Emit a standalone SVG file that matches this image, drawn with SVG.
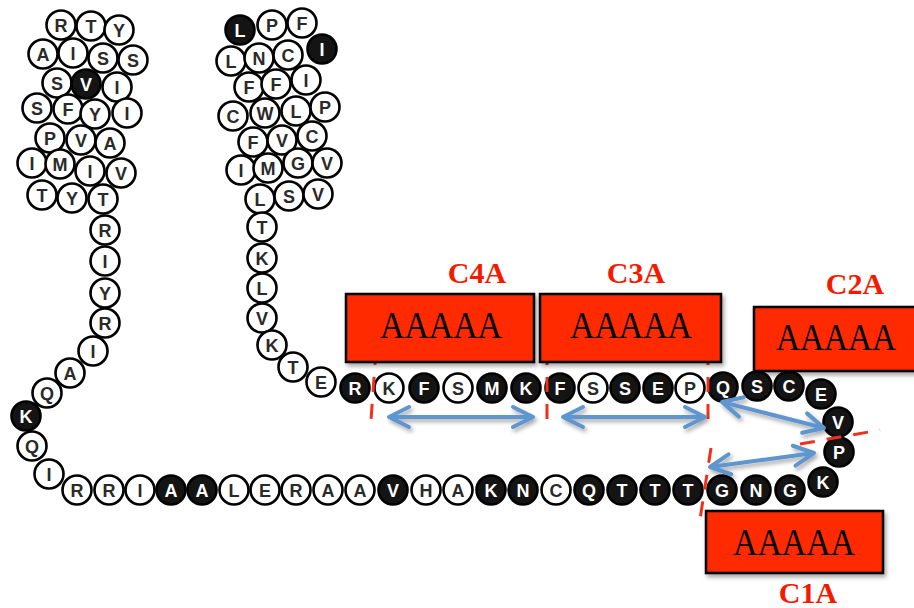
<svg xmlns="http://www.w3.org/2000/svg" width="914" height="608" viewBox="0 0 914 608">
<style>
.n circle{stroke:#000;stroke-width:2.6}
.w circle{fill:#fff}
.d circle{fill:#141414}
.n text{font-family:"Liberation Sans",Arial,sans-serif;font-size:18px;font-weight:bold;text-anchor:middle}
.w text{fill:#2a2a2a}
.d text{fill:#fff}
.box rect{fill:#FF2A00;stroke:#000;stroke-width:2.5}
.box .aa{font-family:"Liberation Serif","Times New Roman",serif;font-size:38px;text-anchor:middle;fill:#000}
.box .lab{font-family:"Liberation Serif","Times New Roman",serif;font-weight:bold;font-size:30px;fill:#F41A00;text-anchor:middle}
.cut{stroke:#F0301A;stroke-width:3;stroke-dasharray:15 12;fill:none}
.arr{stroke:#5E96CF;stroke-width:4;fill:none;marker-start:url(#ah);marker-end:url(#ah)}
</style>
<defs>
<filter id="sh" x="-10%" y="-10%" width="130%" height="140%">
<feDropShadow dx="2" dy="3" stdDeviation="2" flood-color="#000" flood-opacity="0.35"/>
</filter>
<marker id="ah" viewBox="-24 -13 28 26" refX="0" refY="0" markerWidth="28" markerHeight="26" markerUnits="userSpaceOnUse" orient="auto-start-reverse">
<path d="M-20,-10 L0,0 L-20,10" fill="none" stroke="#5E96CF" stroke-width="4" stroke-linecap="round" stroke-linejoin="round"/>
</marker>
</defs>
<rect width="914" height="608" fill="#fff"/>

<g id="helix1">
<g id="a1" class="n w"><circle cx="61" cy="25" r="14.5"/><text x="61" y="31.5">R</text></g>
<g id="a2" class="n w"><circle cx="91" cy="26" r="14.5"/><text x="91" y="32.5">T</text></g>
<g id="a3" class="n w"><circle cx="119" cy="30" r="14.5"/><text x="119" y="36.5">Y</text></g>
<g id="a4" class="n w"><circle cx="43" cy="54" r="14.5"/><text x="43" y="60.5">A</text></g>
<g id="a5" class="n w"><circle cx="73" cy="53" r="14.5"/><text x="73" y="59.5">I</text></g>
<g id="a6" class="n w"><circle cx="103" cy="58" r="14.5"/><text x="103" y="64.5">S</text></g>
<g id="a7" class="n w"><circle cx="133" cy="60" r="14.5"/><text x="133" y="66.5">S</text></g>
<g id="a8" class="n w"><circle cx="57" cy="83" r="14.5"/><text x="57" y="89.5">S</text></g>
<g id="a9" class="n d"><circle cx="86" cy="84" r="14.5"/><text x="86" y="90.5">V</text></g>
<g id="a10" class="n w"><circle cx="117" cy="87" r="14.5"/><text x="117" y="93.5">I</text></g>
<g id="a11" class="n w"><circle cx="37" cy="108" r="14.5"/><text x="37" y="114.5">S</text></g>
<g id="a12" class="n w"><circle cx="68" cy="109" r="14.5"/><text x="68" y="115.5">F</text></g>
<g id="a13" class="n w"><circle cx="95" cy="114" r="14.5"/><text x="95" y="120.5">Y</text></g>
<g id="a14" class="n w"><circle cx="127" cy="113" r="14.5"/><text x="127" y="119.5">I</text></g>
<g id="a15" class="n w"><circle cx="50" cy="138" r="14.5"/><text x="50" y="144.5">P</text></g>
<g id="a16" class="n w"><circle cx="81" cy="140" r="14.5"/><text x="81" y="146.5">V</text></g>
<g id="a17" class="n w"><circle cx="110" cy="143" r="14.5"/><text x="110" y="149.5">A</text></g>
<g id="a18" class="n w"><circle cx="32" cy="163" r="14.5"/><text x="32" y="169.5">I</text></g>
<g id="a19" class="n w"><circle cx="60" cy="164" r="14.5"/><text x="60" y="170.5">M</text></g>
<g id="a20" class="n w"><circle cx="90" cy="171" r="14.5"/><text x="90" y="177.5">I</text></g>
<g id="a21" class="n w"><circle cx="121" cy="173" r="14.5"/><text x="121" y="179.5">V</text></g>
<g id="a22" class="n w"><circle cx="42" cy="195" r="14.5"/><text x="42" y="201.5">T</text></g>
<g id="a23" class="n w"><circle cx="72" cy="198" r="14.5"/><text x="72" y="204.5">Y</text></g>
<g id="a24" class="n w"><circle cx="103" cy="199" r="14.5"/><text x="103" y="205.5">T</text></g>
</g>

<g id="helix2">
<g id="b1" class="n d"><circle cx="240" cy="30" r="14.5"/><text x="240" y="36.5">L</text></g>
<g id="b2" class="n w"><circle cx="272" cy="25" r="14.5"/><text x="272" y="31.5">P</text></g>
<g id="b3" class="n w"><circle cx="302" cy="23" r="14.5"/><text x="302" y="29.5">F</text></g>
<g id="b4" class="n w"><circle cx="231" cy="61" r="14.5"/><text x="231" y="67.5">L</text></g>
<g id="b5" class="n w"><circle cx="259" cy="58" r="14.5"/><text x="259" y="64.5">N</text></g>
<g id="b6" class="n w"><circle cx="288" cy="55" r="14.5"/><text x="288" y="61.5">C</text></g>
<g id="b7" class="n d"><circle cx="322" cy="49" r="14.5"/><text x="322" y="55.5">I</text></g>
<g id="b8" class="n w"><circle cx="249" cy="87" r="14.5"/><text x="249" y="93.5">F</text></g>
<g id="b9" class="n w"><circle cx="276" cy="84" r="14.5"/><text x="276" y="90.5">F</text></g>
<g id="b10" class="n w"><circle cx="306" cy="80" r="14.5"/><text x="306" y="86.5">I</text></g>
<g id="b11" class="n w"><circle cx="233" cy="116" r="14.5"/><text x="233" y="122.5">C</text></g>
<g id="b12" class="n w"><circle cx="265" cy="113" r="14.5"/><text x="265" y="119.5">W</text></g>
<g id="b13" class="n w"><circle cx="296" cy="111" r="14.5"/><text x="296" y="117.5">L</text></g>
<g id="b14" class="n w"><circle cx="325" cy="107" r="14.5"/><text x="325" y="113.5">P</text></g>
<g id="b15" class="n w"><circle cx="253" cy="142" r="14.5"/><text x="253" y="148.5">F</text></g>
<g id="b16" class="n w"><circle cx="282" cy="140" r="14.5"/><text x="282" y="146.5">V</text></g>
<g id="b17" class="n w"><circle cx="312" cy="136" r="14.5"/><text x="312" y="142.5">C</text></g>
<g id="b18" class="n w"><circle cx="241" cy="170" r="14.5"/><text x="241" y="176.5">I</text></g>
<g id="b19" class="n w"><circle cx="268" cy="168" r="14.5"/><text x="268" y="174.5">M</text></g>
<g id="b20" class="n w"><circle cx="298" cy="163" r="14.5"/><text x="298" y="169.5">G</text></g>
<g id="b21" class="n w"><circle cx="327" cy="163" r="14.5"/><text x="327" y="169.5">V</text></g>
<g id="b22" class="n w"><circle cx="260" cy="199" r="14.5"/><text x="260" y="205.5">L</text></g>
<g id="b23" class="n w"><circle cx="289" cy="196" r="14.5"/><text x="289" y="202.5">S</text></g>
<g id="b24" class="n w"><circle cx="318" cy="194" r="14.5"/><text x="318" y="200.5">V</text></g>
</g>

<g id="leftchain">
<g id="c1" class="n w"><circle cx="105" cy="230" r="14.5"/><text x="105" y="236.5">R</text></g>
<g id="c2" class="n w"><circle cx="105" cy="261" r="14.5"/><text x="105" y="267.5">I</text></g>
<g id="c3" class="n w"><circle cx="105" cy="293" r="14.5"/><text x="105" y="299.5">Y</text></g>
<g id="c4" class="n w"><circle cx="105" cy="323" r="14.5"/><text x="105" y="329.5">R</text></g>
<g id="c5" class="n w"><circle cx="93" cy="351" r="14.5"/><text x="93" y="357.5">I</text></g>
<g id="c6" class="n w"><circle cx="70" cy="373" r="14.5"/><text x="70" y="379.5">A</text></g>
<g id="c7" class="n w"><circle cx="47" cy="393" r="14.5"/><text x="47" y="399.5">Q</text></g>
<g id="c8" class="n d"><circle cx="26" cy="416" r="14.5"/><text x="26" y="422.5">K</text></g>
<g id="c9" class="n w"><circle cx="32" cy="446" r="14.5"/><text x="32" y="452.5">Q</text></g>
<g id="c10" class="n w"><circle cx="49" cy="474" r="14.5"/><text x="49" y="480.5">I</text></g>
</g>

<g id="bottomrow">
<g id="d1" class="n w"><circle cx="77" cy="490" r="14.5"/><text x="77" y="496.5">R</text></g>
<g id="d2" class="n w"><circle cx="109" cy="490" r="14.5"/><text x="109" y="496.5">R</text></g>
<g id="d3" class="n w"><circle cx="140" cy="490" r="14.5"/><text x="140" y="496.5">I</text></g>
<g id="d4" class="n d"><circle cx="171" cy="490" r="14.5"/><text x="171" y="496.5">A</text></g>
<g id="d5" class="n d"><circle cx="202" cy="490" r="14.5"/><text x="202" y="496.5">A</text></g>
<g id="d6" class="n w"><circle cx="234" cy="490" r="14.5"/><text x="234" y="496.5">L</text></g>
<g id="d7" class="n w"><circle cx="265" cy="490" r="14.5"/><text x="265" y="496.5">E</text></g>
<g id="d8" class="n w"><circle cx="296" cy="490" r="14.5"/><text x="296" y="496.5">R</text></g>
<g id="d9" class="n w"><circle cx="328" cy="490" r="14.5"/><text x="328" y="496.5">A</text></g>
<g id="d10" class="n w"><circle cx="360" cy="490" r="14.5"/><text x="360" y="496.5">A</text></g>
<g id="d11" class="n d"><circle cx="393" cy="490" r="14.5"/><text x="393" y="496.5">V</text></g>
<g id="d12" class="n w"><circle cx="426" cy="490" r="14.5"/><text x="426" y="496.5">H</text></g>
<g id="d13" class="n w"><circle cx="458" cy="490" r="14.5"/><text x="458" y="496.5">A</text></g>
<g id="d14" class="n d"><circle cx="491" cy="490" r="14.5"/><text x="491" y="496.5">K</text></g>
<g id="d15" class="n d"><circle cx="523" cy="490" r="14.5"/><text x="523" y="496.5">N</text></g>
<g id="d16" class="n w"><circle cx="556" cy="490" r="14.5"/><text x="556" y="496.5">C</text></g>
<g id="d17" class="n d"><circle cx="589" cy="490" r="14.5"/><text x="589" y="496.5">Q</text></g>
<g id="d18" class="n d"><circle cx="622" cy="490" r="14.5"/><text x="622" y="496.5">T</text></g>
<g id="d19" class="n d"><circle cx="655" cy="490" r="14.5"/><text x="655" y="496.5">T</text></g>
<g id="d20" class="n d"><circle cx="688" cy="490" r="14.5"/><text x="688" y="496.5">T</text></g>
<g id="d21" class="n d"><circle cx="722" cy="490" r="14.5"/><text x="722" y="496.5">G</text></g>
<g id="d22" class="n d"><circle cx="756" cy="490" r="14.5"/><text x="756" y="496.5">N</text></g>
<g id="d23" class="n d"><circle cx="790" cy="490" r="14.5"/><text x="790" y="496.5">G</text></g>
<g id="d24" class="n d"><circle cx="823" cy="482" r="14.5"/><text x="823" y="488.5">K</text></g>
</g>

<g id="rightchain">
<g id="e1" class="n w"><circle cx="262" cy="227" r="14.5"/><text x="262" y="233.5">T</text></g>
<g id="e2" class="n w"><circle cx="262" cy="258" r="14.5"/><text x="262" y="264.5">K</text></g>
<g id="e3" class="n w"><circle cx="262" cy="288" r="14.5"/><text x="262" y="294.5">L</text></g>
<g id="e4" class="n w"><circle cx="262" cy="318" r="14.5"/><text x="262" y="324.5">V</text></g>
<g id="e5" class="n w"><circle cx="272" cy="345" r="14.5"/><text x="272" y="351.5">K</text></g>
<g id="e6" class="n w"><circle cx="293" cy="367" r="14.5"/><text x="293" y="373.5">T</text></g>
<g id="e7" class="n w"><circle cx="321" cy="382" r="14.5"/><text x="321" y="388.5">E</text></g>
</g>

<g id="toprow">
<g id="f1" class="n d"><circle cx="355" cy="388" r="14.5"/><text x="355" y="394.5">R</text></g>
<g id="f2" class="n w"><circle cx="389" cy="388" r="14.5"/><text x="389" y="394.5">K</text></g>
<g id="f3" class="n d"><circle cx="424" cy="388" r="14.5"/><text x="424" y="394.5">F</text></g>
<g id="f4" class="n w"><circle cx="458" cy="388" r="14.5"/><text x="458" y="394.5">S</text></g>
<g id="f5" class="n d"><circle cx="492" cy="388" r="14.5"/><text x="492" y="394.5">M</text></g>
<g id="f6" class="n d"><circle cx="526" cy="388" r="14.5"/><text x="526" y="394.5">K</text></g>
<g id="f7" class="n d"><circle cx="560" cy="388" r="14.5"/><text x="560" y="394.5">F</text></g>
<g id="f8" class="n w"><circle cx="593" cy="388" r="14.5"/><text x="593" y="394.5">S</text></g>
<g id="f9" class="n d"><circle cx="625" cy="388" r="14.5"/><text x="625" y="394.5">S</text></g>
<g id="f10" class="n d"><circle cx="658" cy="388" r="14.5"/><text x="658" y="394.5">E</text></g>
<g id="f11" class="n w"><circle cx="690" cy="388" r="14.5"/><text x="690" y="394.5">P</text></g>
<g id="f12" class="n d"><circle cx="723" cy="387" r="14.5"/><text x="723" y="393.5">Q</text></g>
<g id="f13" class="n d"><circle cx="757" cy="386" r="14.5"/><text x="757" y="392.5">S</text></g>
<g id="f14" class="n d"><circle cx="789" cy="386" r="14.5"/><text x="789" y="392.5">C</text></g>
<g id="f15" class="n d"><circle cx="821" cy="394" r="14.5"/><text x="821" y="400.5">E</text></g>
<g id="f16" class="n d"><circle cx="838" cy="422" r="14.5"/><text x="838" y="428.5">V</text></g>
<g id="f17" class="n d"><circle cx="839" cy="452" r="14.5"/><text x="839" y="458.5">P</text></g>
</g>

<g id="connectors">
<line class="cut" x1="376" y1="350" x2="371" y2="420"/>
<line class="cut" x1="547" y1="350" x2="547" y2="420"/>
<line class="cut" x1="708" y1="350" x2="708" y2="420"/>
<line class="cut" x1="800" y1="444" x2="880" y2="430"/>
<line class="cut" x1="711" y1="448" x2="699" y2="526"/>
<g filter="url(#sh)">
<line class="arr" x1="389" y1="417" x2="533" y2="417"/>
<line class="arr" x1="563" y1="417" x2="705" y2="417"/>
<line class="arr" x1="722" y1="402" x2="824" y2="428"/>
<line class="arr" x1="710" y1="467" x2="814" y2="453"/>
</g>
</g>

<g id="C4A" class="box">
<rect x="346" y="294" width="188" height="68" filter="url(#sh)"/>
<text class="aa" x="441" y="338" textLength="122" lengthAdjust="spacingAndGlyphs">AAAAA</text>
<text class="lab" x="477" y="283">C4A</text>
</g>
<g id="C3A" class="box">
<rect x="540" y="294" width="181" height="68" filter="url(#sh)"/>
<text class="aa" x="631" y="338" textLength="122" lengthAdjust="spacingAndGlyphs">AAAAA</text>
<text class="lab" x="636" y="283">C3A</text>
</g>
<g id="C2A" class="box">
<rect x="754" y="307" width="164" height="64" filter="url(#sh)"/>
<text class="aa" x="836" y="350" textLength="120" lengthAdjust="spacingAndGlyphs">AAAAA</text>
<text class="lab" x="855" y="294">C2A</text>
</g>
<g id="C1A" class="box">
<rect x="706" y="511" width="177" height="62" filter="url(#sh)"/>
<text class="aa" x="794" y="555" textLength="122" lengthAdjust="spacingAndGlyphs">AAAAA</text>
<text class="lab" x="808" y="603">C1A</text>
</g>
</svg>
